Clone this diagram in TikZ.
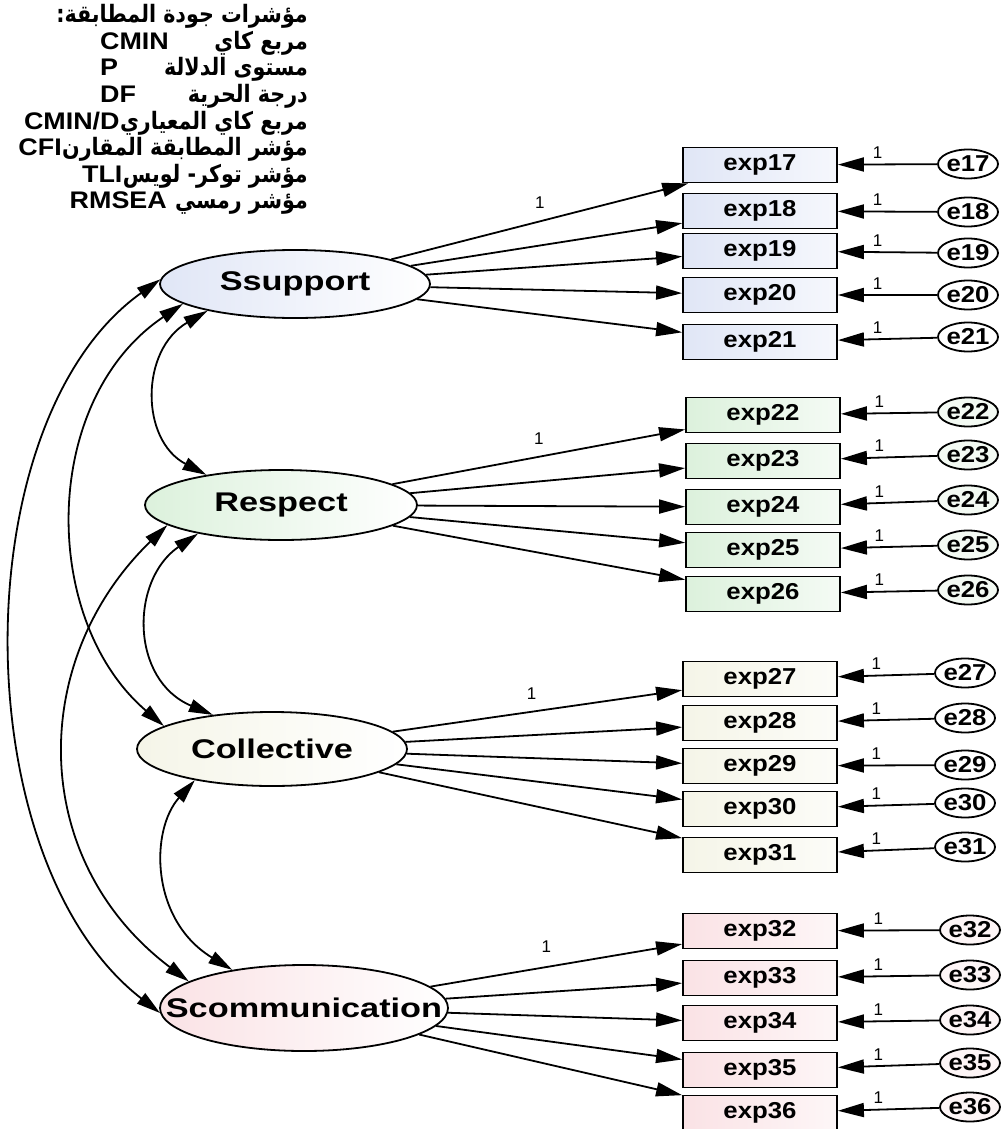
\documentclass[tikz,border=0pt]{standalone}
\usepackage{fontspec}
\setmainfont{Liberation Sans}
\newfontfamily\labfont[FakeStretch=1.12]{Liberation Sans}
\newfontfamily\latfont[FakeStretch=1.27]{Liberation Sans}
\newfontfamily\arabicfont[Script=Arabic,FakeStretch=0.86]{DejaVu Sans}
\TeXXeTstate=1
\usetikzlibrary{arrows.meta,shapes.geometric}

\definecolor{tintA}{HTML}{E0E6F6}
\definecolor{tintB}{HTML}{DCF1DC}
\definecolor{tintC}{HTML}{F5F5E8}
\definecolor{tintD}{HTML}{FAE2E5}

% zero-width centred label, so the ellipse keeps its minimum size
\newcommand{\zwbox}[1]{\makebox[0pt]{#1}}

\begin{document}
\begin{tikzpicture}[x=1pt,y=-1pt,
  latent/.style={ellipse, draw, line width=1.8pt, inner sep=0pt,
    font=\latfont\bfseries\fontsize{27}{30}\selectfont},
  obs/.style={rectangle, draw, line width=1.8pt, minimum width=154pt,
    minimum height=35pt, inner sep=0pt,
    font=\labfont\bfseries\fontsize{23}{26}\selectfont},
  err/.style={ellipse, draw, line width=1.8pt, minimum width=60pt,
    minimum height=29pt, inner sep=0pt,
    font=\labfont\bfseries\fontsize{23}{26}\selectfont},
  load/.style={line width=1.8pt, -{Triangle[length=26pt,width=14pt]}},
  cov/.style={line width=1.8pt,
    {Triangle[length=24pt,width=13pt]}-{Triangle[length=24pt,width=13pt]}},
  one/.style={font=\fontsize{17}{17}\selectfont, inner sep=1pt},
  arline/.style={anchor=base east, inner sep=0pt,
    font=\arabicfont\bfseries\fontsize{24}{26}\selectfont},
  latline/.style={inner sep=0pt,
    font=\labfont\bfseries\fontsize{24}{26}\selectfont}
]
\useasboundingbox (0,0) rectangle (1006,1129);

% ---- fit indices legend ----
\node[arline] (h1) at (308,23) {\beginR مؤشرات جودة المطابقة:\endR};
\node[arline] (h2) at (308,49.5) {\beginR مربع كاي\endR};
\node[latline, anchor=base west] (h2l) at (100,49.5) {CMIN};
\node[arline] (h3) at (308,76) {\beginR مستوى الدلالة\endR};
\node[latline, anchor=base west] (h3l) at (100,76) {P};
\node[arline] (h4) at (308,102.5) {\beginR درجة الحرية\endR};
\node[latline, anchor=base west] (h4l) at (100,102.5) {DF};
\node[arline] (h5) at (308,129) {\beginR مربع كاي المعياري\endR};
\node[latline, anchor=base east] (h5l) at (h5.base west) {CMIN/D};
\node[arline] (h6) at (308,155.5) {\beginR مؤشر المطابقة المقارن\endR};
\node[latline, anchor=base east] (h6l) at (h6.base west) {CFI};
\node[arline] (h7) at (308,182) {\beginR مؤشر توكر- لويس\endR};
\node[latline, anchor=base east] (h7l) at (h7.base west) {TLI};
\node[arline] (h8) at (308,208.5) {\beginR مؤشر رمسي\endR};
\node[latline, anchor=base east] (h8l) at ([xshift=-8pt]h8.base west) {RMSEA};

% ---- latent factors ----
\node[latent, minimum width=270pt, minimum height=68pt,
  left color=tintA, right color=white] (ss) at (295,284) {\zwbox{Ssupport}};
\node[latent, minimum width=272pt, minimum height=70pt,
  left color=tintB, right color=white] (re) at (281,505) {\zwbox{Respect}};
\node[latent, minimum width=270pt, minimum height=74pt,
  left color=tintC, right color=white] (co) at (272,749) {\zwbox{Collective}};
\node[latent, minimum width=288pt, minimum height=86pt,
  left color=tintD, right color=white] (sc) at (304,1008) {\zwbox{Scommunication}};

% ---- indicators ----
\foreach \n/\y in {17/165,18/211,19/251,20/295,21/342}
  \node[obs, left color=tintA, right color=tintA!30] (exp\n) at (760,\y) {exp\n};
\foreach \n/\y in {22/415,23/461,24/507,25/550,26/594}
  \node[obs, left color=tintB, right color=tintB!30] (exp\n) at (763,\y) {exp\n};
\foreach \n/\y in {27/679,28/723,29/766,30/809,31/855}
  \node[obs, left color=tintC, right color=tintC!30] (exp\n) at (760,\y) {exp\n};
\foreach \n/\y in {32/931,33/978,34/1023,35/1070,36/1113}
  \node[obs, left color=tintD, right color=tintD!30] (exp\n) at (760,\y) {exp\n};

% ---- error terms ----
\foreach \n/\y in {17/164,18/212,19/253,20/295,21/337}
  \node[err, fill=white] (e\n) at (968,\y) {\zwbox{e\n}};
\foreach \n/\y in {22/412,23/455,24/500,25/545,26/590}
  \node[err, fill=tintB!35] (e\n) at (968,\y) {\zwbox{e\n}};
\foreach \n/\y in {27/673,28/718,29/765,30/803,31/847}
  \node[err, fill=white] (e\n) at (965,\y) {\zwbox{e\n}};
\foreach \n/\y in {32/930,33/975,34/1020,35/1063,36/1107}
  \node[err, fill=tintD!35] (e\n) at (970,\y) {\zwbox{e\n}};

% ---- error paths (fixed at 1) ----
\foreach \n in {17,...,36}
  \draw[load] (e\n) -- node[one, pos=0.6, above=4pt] {1} (exp\n);

% ---- factor loadings ----
\draw[load] (ss) -- node[one, pos=0.5, above=11pt] {1} (exp17);
\foreach \n in {18,...,21} \draw[load] (ss) -- (exp\n);
\draw[load] (re) -- node[one, pos=0.5, above=10pt] {1} (exp22);
\foreach \n in {23,...,26} \draw[load] (re) -- (exp\n);
\draw[load] (co) -- node[one, pos=0.48, above=10pt] {1} (exp27);
\foreach \n in {28,...,31} \draw[load] (co) -- (exp\n);
\draw[load] (sc) -- node[one, pos=0.46, above=13pt] {1} (exp32);
\foreach \n in {33,...,36} \draw[load] (sc) -- (exp\n);

% ---- factor covariances ----
\draw[cov] (ss.197) .. controls (140,350) and (140,440) .. (re.158);
\draw[cov] (re.199) .. controls (130,580) and (130,680) .. (co.150);
\draw[cov] (co.202) .. controls (150,830) and (150,920) .. (sc.152);
\draw[cov] (ss.190) .. controls (40,400) and (40,620) .. (co.168);
\draw[cov] (re.190) .. controls (28,660) and (28,860) .. (sc.167);
\draw[cov] (ss.178) .. controls (-37,420) and (-37,860) .. (sc.182);
\end{tikzpicture}
\end{document}
